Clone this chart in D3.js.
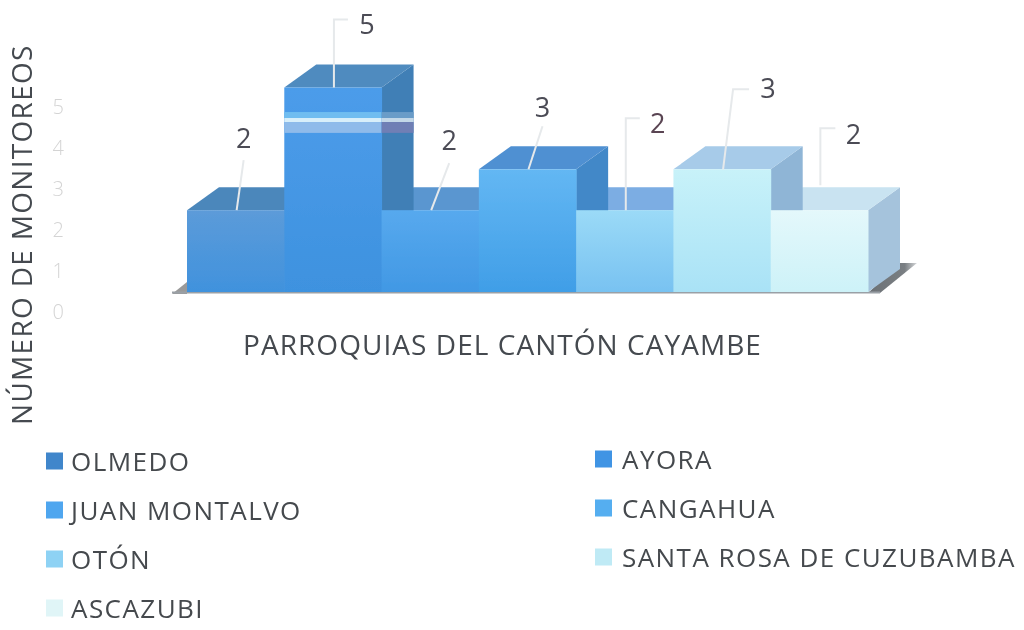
<!DOCTYPE html>
<html><head><meta charset="utf-8">
<script src="https://cdn.jsdelivr.net/npm/d3@7"></script>
<style>html,body{margin:0;padding:0;background:#fff}svg{display:block}text{font-family:"Open Sans",sans-serif}</style>
</head><body><svg id="c" width="1024" height="630"></svg>
<script>
const categories=["OLMEDO","AYORA","JUAN MONTALVO","CANGAHUA","OTÓN","SANTA ROSA DE CUZUBAMBA","ASCAZUBI"];
const values=[2,5,2,3,2,3,2];
const yTicks=[0,1,2,3,4,5];
const frontTop=["#5c9bd9","#4c9cea","#57a9ee","#63b7f3","#9bdaf7","#c8f2f9","#e4f8fb"];
const frontBottom=["#4092dd","#3e92df","#4198e4","#409ee7","#78c2f1","#a9e2f6","#cdf2f8"];
const topFace=["#4c87bb","#4f8bbf","#5a96d0","#5090d2","#7bade3","#a7cbe9","#c9e3f1"];
const sideFace=["#3f7eb5","#3f7fb6","#4a8ac5","#4288c8","#6a9fd4","#8fb5d6","#a5c3dc"];
const legendSwatch=["#3f86cb","#4194e4","#4fa6ef","#55aef0","#8ed2f4","#bfeaf5","#e0f5f7"];
const leaders=[
 [[0,0],[7,-50]],[[0,0],[0,-68],[14,-68]],[[0,0],[18,-47]],[[0,0],[14,-43]],
 [[0,0],[0,-92],[14,-92]],[[0,0],[10,-80],[26,-80]],[[0,-25],[0,-82],[15,-82]]];
const labelOffsets=[[7,-72],[33,-64],[18,-70],[14,-62],[32,-87],[45,-81],[33,-76]];

const svg=d3.select("#c");
const defs=svg.append("defs");
defs.append("filter").attr("id","soft").attr("x","-5%").attr("y","-5%").attr("width","110%").attr("height","110%")
  .append("feGaussianBlur").attr("stdDeviation",0.7);
const idx=d3.range(categories.length);
idx.forEach(i=>{
  const g=defs.append("linearGradient").attr("id","f"+i).attr("x1",0).attr("x2",0).attr("y1",0).attr("y2",1);
  g.append("stop").attr("offset",0).attr("stop-color",frontTop[i]);
  g.append("stop").attr("offset",1).attr("stop-color",frontBottom[i]);
});
const sg=defs.append("linearGradient").attr("id","shadow").attr("x1",0).attr("x2",1).attr("y1",0).attr("y2",0);
sg.append("stop").attr("offset",0).attr("stop-color","#6b7075");
sg.append("stop").attr("offset",0.75).attr("stop-color","#7a7f83");
sg.append("stop").attr("offset",1).attr("stop-color","#d5d7d9");
const root=svg.append("g").attr("filter","url(#soft)");

const x=d3.scaleBand().domain(idx).range([187,868]).padding(0);
const y=d3.scaleLinear().domain([0,5]).range([292,87.5]);
const dx=32,dy=-23;
const line=d3.line();

// floor shadow
root.append("path").attr("d",line([[172,294],[187,282],[187,294]])).attr("fill","#9a9a9a");
root.append("path").attr("d",line([[868,293],[900,263],[917,263],[880,293]])).attr("fill","url(#shadow)");
root.append("rect").attr("x",172).attr("y",291.5).attr("width",708).attr("height",2).attr("fill","#9aa0a6");

// axis
const axis=d3.axisLeft(d3.scaleLinear().domain([0,5]).range([312,107])).tickValues(yTicks).tickFormat(d3.format("d")).tickSize(0);
const ag=root.append("g").attr("transform","translate(64,0)").call(axis);
ag.select(".domain").remove();
ag.selectAll("text").attr("font-size",20).attr("font-weight",300).attr("fill","#d4d4d4").attr("x",0).style("font-family",'"Open Sans",sans-serif');

// tops and sides, back to front
[...idx].reverse().forEach(i=>{
  const x0=x(i),x1=x0+x.bandwidth(),yt=y(values[i]),yb=y(0);
  root.append("path").attr("d",line([[x1,yb],[x1+dx,yb+dy],[x1+dx,yt+dy],[x1,yt]])+"Z").attr("fill",sideFace[i]);
  root.append("path").attr("d",line([[x0,yt],[x0+dx,yt+dy],[x1+dx,yt+dy],[x1,yt]])+"Z").attr("fill",topFace[i]);
});
// fronts
idx.forEach(i=>{
  root.append("rect").attr("x",x(i)).attr("y",y(values[i])).attr("width",x.bandwidth()+0.5)
    .attr("height",y(0)-y(values[i])).attr("fill",`url(#f${i})`);
});
// light band across the tallest column
const tall=values.indexOf(d3.max(values));
const bandX=x(tall),bandW=x.bandwidth();
[[4.4,4.254,"#6fbdf0"],[4.254,4.156,"#d8effa"],[4.156,3.89,"#8fbbea"]].forEach(([a,b,c])=>{
  root.append("rect").attr("x",bandX).attr("y",y(a)).attr("width",bandW).attr("height",y(b)-y(a)).attr("fill",c);
});
[[4.4,4.254,"#6a9cc8"],[4.254,4.156,"#c4d8e8"],[4.156,3.89,"#6f7fb5"]].forEach(([a,b,c])=>{
  root.append("rect").attr("x",bandX+bandW).attr("y",y(a)).attr("width",dx).attr("height",y(b)-y(a)).attr("fill",c);
});

// leader lines and value labels
idx.forEach(i=>{
  const cx=x(i)+x.bandwidth()/2+1,yt=y(values[i]);
  const pts=leaders[i].map(p=>[cx+p[0],yt+p[1]]);
  root.append("path").attr("d",line(pts)).attr("fill","none").attr("stroke","#e6e9eb").attr("stroke-width",2);
  root.append("text").attr("x",cx+labelOffsets[i][0]).attr("y",yt+labelOffsets[i][1]+10)
    .attr("text-anchor","middle").attr("font-size",27).attr("font-weight",500).attr("fill",i===4?"#5a4452":"#4b4b55").text(values[i]);
});

// axis titles
root.append("text").attr("transform","translate(32,425) rotate(-90)").attr("font-size",28).attr("letter-spacing",1.3).attr("fill","#444a4f").text("NÚMERO DE MONITOREOS");
root.append("text").attr("x",243).attr("y",355).attr("font-size",28).attr("letter-spacing",1.05).attr("fill","#444a4f").text("PARROQUIAS DEL CANTÓN CAYAMBE");

// legend
const legX=[46,595],legTxt=[71,622],legRows=[[461,510,559,608],[459,508,557]];
idx.forEach(i=>{
  const col=i%2,row=Math.floor(i/2),cy=legRows[col][row];
  root.append("rect").attr("x",legX[col]).attr("y",cy-8.5).attr("width",17).attr("height",17).attr("fill",legendSwatch[i]);
  root.append("text").attr("x",legTxt[col]).attr("y",cy+10).attr("font-size",26).attr("letter-spacing",1.45).attr("fill","#45494d").text(categories[i]);
});
</script></body></html>
